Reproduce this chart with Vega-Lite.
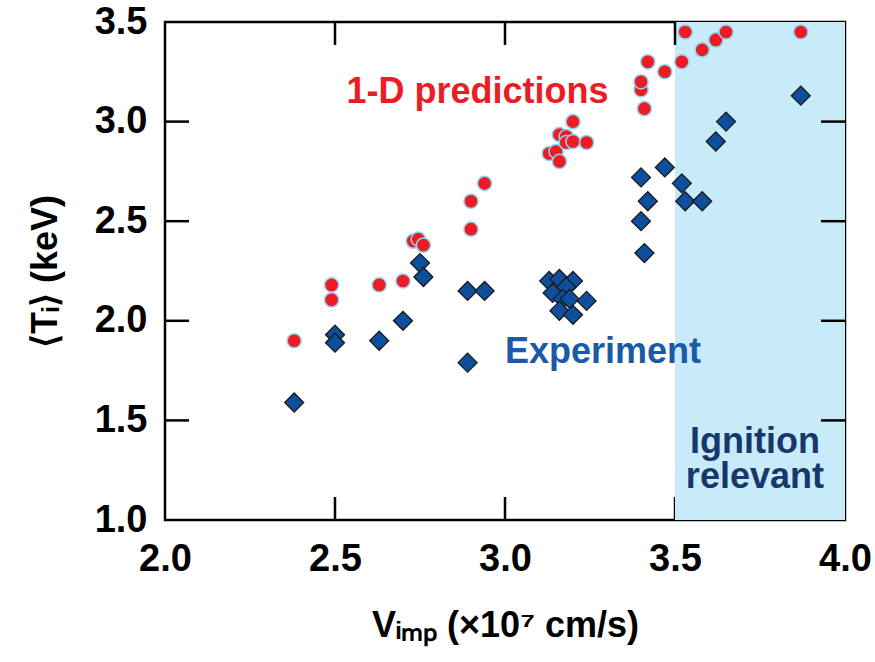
{
  "$schema": "https://vega.github.io/schema/vega-lite/v6.json",
  "width": 680,
  "height": 498,
  "autosize": "none",
  "padding": {"left": 165, "top": 22, "right": 30, "bottom": 142},
  "config": {
    "view": {"stroke": "#000", "strokeWidth": 2.5},
    "axis": {
      "grid": false,
      "domain": false,
      "tickSize": 0,
      "labelFont": "Liberation Sans",
      "labelFontWeight": "bold",
      "labelFontSize": 38,
      "labelColor": "#000",
      "labelFlush": false,
      "labelOverlap": false,
      "labelBound": false,
      "titleFont": "Liberation Sans",
      "titleFontWeight": "bold",
      "titleFontSize": 36,
      "titleColor": "#000"
    }
  },
  "layer": [
    {
      "data": {"values": [{"v": 2.5}, {"v": 3.0}, {"v": 3.5}]},
      "mark": {"type": "rule", "strokeWidth": 2.5, "color": "black"},
      "encoding": {
        "x": {"field": "v", "type": "quantitative", "scale": {"domain": [2.0, 4.0], "nice": false, "zero": false},
          "axis": {"orient": "bottom", "values": [2.0, 2.5, 3.0, 3.5, 4.0], "format": ".1f", "labelPadding": 20, "title": "Vᵢₘₚ (×10⁷ cm/s)", "titlePadding": 30}},
        "y": {"datum": 1.0, "type": "quantitative", "scale": {"domain": [1.0, 3.5], "nice": false, "zero": false},
          "axis": {"orient": "left", "values": [1.0, 1.5, 2.0, 2.5, 3.0, 3.5], "format": ".1f", "labelPadding": 18, "title": "⟨Tᵢ⟩ (keV)", "titlePadding": 30}},
        "y2": {"datum": 1.1155}
      }
    },
    {
      "data": {"values": [{"x": 3.5, "x2": 4.0}]},
      "mark": {"type": "rect", "color": "#c8ebfa"},
      "encoding": {
        "x": {"field": "x", "type": "quantitative"},
        "x2": {"field": "x2"}
      }
    },
    {
      "data": {"values": [{"v": 2.5}, {"v": 3.0}, {"v": 3.5}]},
      "mark": {"type": "rule", "strokeWidth": 2.5, "color": "black"},
      "encoding": {
        "x": {"field": "v", "type": "quantitative"},
        "y": {"datum": 3.5, "type": "quantitative"},
        "y2": {"datum": 3.3845}
      }
    },
    {
      "data": {"values": [{"t": 1.5}, {"t": 2.0}, {"t": 2.5}, {"t": 3.0}]},
      "mark": {"type": "rule", "strokeWidth": 2.5, "color": "black"},
      "encoding": {
        "y": {"field": "t", "type": "quantitative"},
        "x": {"datum": 2.0, "type": "quantitative"},
        "x2": {"datum": 2.0706}
      }
    },
    {
      "data": {"values": [{"t": 1.5}, {"t": 2.0}, {"t": 2.5}, {"t": 3.0}]},
      "mark": {"type": "rule", "strokeWidth": 2.5, "color": "black"},
      "encoding": {
        "y": {"field": "t", "type": "quantitative"},
        "x": {"datum": 4.0, "type": "quantitative"},
        "x2": {"datum": 3.9294}
      }
    },
    {
      "data": {"values": [
        {"v": 2.38, "t": 1.90}, {"v": 2.49, "t": 2.18}, {"v": 2.49, "t": 2.105},
        {"v": 2.63, "t": 2.18}, {"v": 2.70, "t": 2.20}, {"v": 2.73, "t": 2.40},
        {"v": 2.745, "t": 2.41}, {"v": 2.76, "t": 2.38}, {"v": 2.90, "t": 2.46},
        {"v": 2.90, "t": 2.60}, {"v": 2.94, "t": 2.69}, {"v": 3.13, "t": 2.84},
        {"v": 3.15, "t": 2.85}, {"v": 3.16, "t": 2.80}, {"v": 3.16, "t": 2.935},
        {"v": 3.18, "t": 2.925}, {"v": 3.18, "t": 2.895}, {"v": 3.20, "t": 2.90},
        {"v": 3.24, "t": 2.895}, {"v": 3.20, "t": 3.00}, {"v": 3.41, "t": 3.065},
        {"v": 3.40, "t": 3.16}, {"v": 3.40, "t": 3.20}, {"v": 3.42, "t": 3.30},
        {"v": 3.47, "t": 3.25}, {"v": 3.52, "t": 3.30}, {"v": 3.53, "t": 3.45},
        {"v": 3.58, "t": 3.36}, {"v": 3.62, "t": 3.41}, {"v": 3.65, "t": 3.45},
        {"v": 3.87, "t": 3.45}
      ]},
      "mark": {"type": "point", "shape": "circle", "filled": true, "size": 200, "color": "#ed1c24", "stroke": "#8fd3f4", "strokeWidth": 1.5, "opacity": 1},
      "encoding": {
        "x": {"field": "v", "type": "quantitative"},
        "y": {"field": "t", "type": "quantitative"}
      }
    },
    {
      "data": {"values": [
        {"v": 2.38, "t": 1.59}, {"v": 2.50, "t": 1.93}, {"v": 2.50, "t": 1.89},
        {"v": 2.63, "t": 1.90}, {"v": 2.70, "t": 2.00}, {"v": 2.75, "t": 2.29},
        {"v": 2.76, "t": 2.22}, {"v": 2.89, "t": 2.15}, {"v": 2.94, "t": 2.15},
        {"v": 2.89, "t": 1.79}, {"v": 3.13, "t": 2.20}, {"v": 3.16, "t": 2.21},
        {"v": 3.20, "t": 2.20}, {"v": 3.14, "t": 2.14}, {"v": 3.18, "t": 2.17},
        {"v": 3.17, "t": 2.11}, {"v": 3.19, "t": 2.11}, {"v": 3.24, "t": 2.10},
        {"v": 3.16, "t": 2.05}, {"v": 3.20, "t": 2.03}, {"v": 3.40, "t": 2.72},
        {"v": 3.47, "t": 2.77}, {"v": 3.52, "t": 2.69}, {"v": 3.42, "t": 2.60},
        {"v": 3.53, "t": 2.60}, {"v": 3.58, "t": 2.60}, {"v": 3.40, "t": 2.50},
        {"v": 3.41, "t": 2.34}, {"v": 3.65, "t": 3.00}, {"v": 3.62, "t": 2.90},
        {"v": 3.87, "t": 3.13}
      ]},
      "mark": {"type": "point", "shape": "diamond", "filled": true, "size": 360, "color": "#0d4f9c", "stroke": "#1a1a1a", "strokeWidth": 1.3, "opacity": 1},
      "encoding": {
        "x": {"field": "v", "type": "quantitative"},
        "y": {"field": "t", "type": "quantitative"}
      }
    },
    {
      "data": {"values": [
        {"v": 2.919, "t": 3.093, "label": "1-D predictions", "c": "pred"},
        {"v": 3.288, "t": 1.788, "label": "Experiment", "c": "exp"},
        {"v": 3.735, "t": 1.336, "label": "Ignition", "c": "ign"},
        {"v": 3.735, "t": 1.161, "label": "relevant", "c": "ign"}
      ]},
      "mark": {"type": "text", "font": "Liberation Sans", "fontWeight": "bold", "fontSize": 36, "align": "center", "baseline": "alphabetic"},
      "encoding": {
        "x": {"field": "v", "type": "quantitative"},
        "y": {"field": "t", "type": "quantitative"},
        "text": {"field": "label"},
        "color": {
          "field": "c", "type": "nominal", "legend": null,
          "scale": {"domain": ["pred", "exp", "ign"], "range": ["#ed1c24", "#1b5aa6", "#17386a"]}
        }
      }
    }
  ]
}
